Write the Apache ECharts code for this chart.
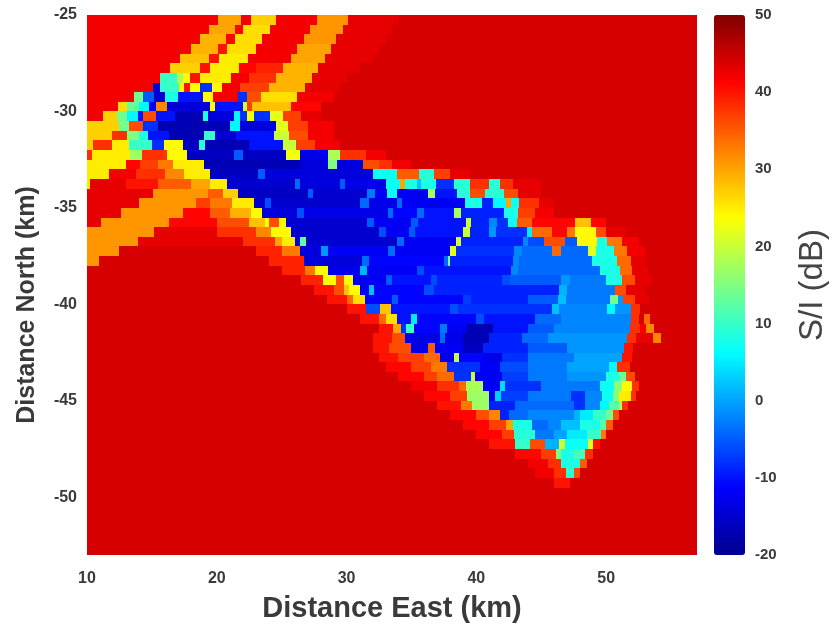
<!DOCTYPE html>
<html><head><meta charset="utf-8">
<style>html,body{margin:0;padding:0;background:#fff}#c{width:835px;height:626px;filter:blur(0.7px)}</style>
<script src="https://cdn.jsdelivr.net/npm/echarts@6/dist/echarts.min.js"></script>
</head><body><div id="c"></div>
<script>
var xTicks=[10,20,30,40,50];
var yTicks=[-50,-45,-40,-35,-30,-25];
var cbTicks=[-20,-10,0,10,20,30,40,50];
var rowStepKm=0.5;
// Each row: north value, then value,eastEnd pairs read west to east; the last value runs to the plot edge.
var rows=[
[-25.25,42,20.1,30,21.9,42,22.6,27,24.6,42,27.7,31,30.1,43,34,44],
[-25.75,42,19.4,30,21.4,41,22,26,24.1,42,27.2,31,29.7,43,33.5,44],
[-26.25,42,18.7,29,20.7,41,21.4,26,23.5,42,26.7,31,29.2,43,33,44],
[-26.75,42,18,29,20.1,40,20.8,26,23,42,26.2,30,28.8,43,32.5,44],
[-27.25,42,17.2,28,19.4,40,20.2,25,22.4,42,25.7,30,28.3,43,32,44],
[-27.75,42,16.4,27,18.7,40,19.5,25,21.7,41,23,39,25.1,29,27.8,43,31,44],
[-28.25,42,15.6,10,16.9,18,17.4,24,17.9,40,18.7,25,21.1,42,22.5,38,24.6,29,27.3,43,30,44],
[-28.75,42,15.1,-15,15.6,10,17.1,24,17.5,40,17.9,24,18.7,-8,19.6,24,20.4,42,21.8,37,24,29,26.8,43,29.5,44],
[-29.25,42,13.6,14,14.3,-5,15.2,-15,16,8,17,-10,18.9,24,19.7,42,21.6,-8,22.3,36,23.4,26,26.2,42,29,44],
[-29.75,42,12.4,26,13.1,13,14,6,14.8,-12,15.3,32,16.2,-14,19.5,24,19.9,-10,22,20,22.3,37,22.7,28,25.7,41,28,44],
[-30.25,42,11.2,27,12.3,14,13.1,6,13.9,-10,14.3,36,15.3,-10,16.8,-17,18.9,8,19.3,-14,21.3,6,21.8,-8,22.3,23,22.9,-8,24.1,22,25.1,37,26.5,43,28,44],
[-30.75,27,12.5,14,13.2,36,14.3,-8,15.5,-17,21,6,21.8,-14,24.6,22,25.5,37,27,42,29,44],
[-31.25,27,11.9,38,13.1,15,14,8,14.7,-10,16.3,-17,19,10,19.9,-15,21.5,-10,24.4,20,25.6,36,27,42,29,44],
[-31.75,27,10.5,38,11.9,25,13.2,10,15,-8,15.9,24,17.4,-16,18.6,9,19.1,-17,22.5,-10,25.1,20,26.1,37,27.6,42,29.5,44],
[-32.25,38,10.4,25,13.3,17,14.2,38,16.2,24,17.7,-16,21.3,-5,22,-16,25.3,23,26.4,-13,28.6,18,29.5,38,31.5,42,33,44],
[-32.75,25,13,41,14.1,37,15.5,33,16.6,25,19,-17,26.4,-14,28.6,15,29.3,-14,31.3,36,32.5,38,33.5,42,35,44],
[-33.25,25,11.7,42,13.8,38,16,32,17.5,25,19.5,-16,23.2,-5,23.7,-14,32,7,33.9,35,35.6,9,36.7,37,38,43,39.5,44],
[-33.75,25,10.2,43,13,40,15.5,35,18,30,19.5,25,20.8,-15,26,-4,26.4,-14,29.5,-5,29.9,-13,33,7,34.1,30,34.5,8,35.4,2,35.7,8,36.9,-8,38.3,9,39.5,38,41,9,41.8,38,42.8,43,45,44],
[-34.25,43,15.1,31,19.3,35,20.5,27,21.6,-16,27,-5,27.4,-15,31.6,-3,32.2,-12,33.1,7,33.9,-12,36.3,18,36.8,-10,38.5,9,39.5,36,40.7,9,42.1,36,43.2,43,45,44],
[-34.75,43,14,31,18.4,37,19.5,33,21.2,25,22.9,-15,23.7,-6,24.2,-15,31,-4,31.7,-13,33.9,-4,34.3,-12,39.1,8,40.4,-9,41.3,6,42.3,30,42.7,7,43.3,38,44.8,43,46,44],
[-35.25,43,12.6,31,17.4,41,19.5,35,21,29,22.6,24,23.5,-14,26.2,-6,26.7,-13,33.2,-4,33.6,-11,35.4,-4,36,-10,38.3,18,38.8,-9,42.1,8,43.2,37,44.5,42,46,44],
[-35.75,43,11.1,31,16.3,41,20,36,22.5,28,23.7,24,24,36,24.8,24,25.3,-15,31.6,-5,32.1,-12,35,-5,35.5,-10,39.2,20,39.6,-9,41,-2,41.6,-8,42.4,7,43.1,35,44.3,41,47.6,28,48.8,41,50,44],
[-36.25,31,15.2,43,20,38,23,32,24.2,24,25.7,-15,32.5,-6,33,-12,34.8,-5,35.3,-10,39,20,39.5,-9,41,-1,41.5,-8,43.9,5,44.3,34,45.8,41,47,33,47.6,24,49.2,36,50,43,51.5,44],
[-36.75,31,13.9,43,22,38,24.5,30,25,25,26,-13,26.4,13,26.9,-15,33.9,-4,34.4,-12,38.4,21,38.8,-9,43.6,-2,44,-6,45.2,36,46.85,-5,47.75,24,49.3,8,50.1,33,51.2,42,52.5,44],
[-37.25,31,12.5,44,23,39,25,33,26.4,-14,28,-1,28.6,-12,33.2,-4,33.7,-12,38,22,38.4,-8,42.9,-2,43.5,-4,45.8,34,46.5,-4,48.6,22,49.2,8,50.6,33,51.6,42,53,44],
[-37.75,31,10.9,44,24,39,26.7,-14,31.2,-4,31.7,-11,37.5,-4,37.8,14,38,-9,42.8,-2,43.3,-4,48.9,8,50.85,34,51.9,43,53,44],
[-38.25,44,25,39,26.8,33,27.6,24,28.6,-13,31,1,31.6,-12,35.4,-6,36,-10,42.7,-2,43.2,-4,49.5,8,51.1,34,52,43,53.2,44],
[-38.75,44,26.5,39,28.2,24,29.2,36,29.8,24,30.5,-12,33,-5,33.5,-10,36.5,-6,37,-9,42,-6,42.6,-5,46.5,-1,47.2,-3,50,8,51.2,36,52.2,43,53.5,44],
[-39.25,44,27.5,40,29,36,29.8,28,30.2,24,31,-12,31.7,2,32.1,-11,36,-6,36.7,-9,46.4,1,47,-3,50.7,36,51.5,43,53,44],
[-39.75,44,28.5,40,30,34,30.5,26,31.4,-11,33.5,-5,34,-11,39,-7,39.6,-9,44,-5,46.3,2,46.9,-3,50.3,14,50.9,-1,51.3,37,52.2,43,53.3,44],
[-40.25,44,30,40,31.5,-6,32.6,28,33.4,-10,38,-6,38.6,-8,45.8,2,46.4,-2,50.1,6,50.7,-1,51.9,38,52.6,44],
[-40.75,44,31,40,32.5,34,33,26,33.9,-10,35,5,35.4,-11,40,-6,40.6,-10,44.5,-4,46.5,-2,51.9,38,52.5,44,52.9,34,53.4,44],
[-41.25,44,32.5,40,33.6,30,34.2,-8,34.6,10,35.2,-11,37.2,-3,37.7,-12,39.3,-17,41.3,-10,44,-5,46,-2,51.8,38,52.6,42,53.1,32,53.7,44],
[-41.75,44,32,40,33.5,36,34.5,-13,37.2,-4,37.6,-13,39,-17,41,-9,43.5,-4,45.5,-1,51.6,38,52.3,43,53.6,32,54.2,44],
[-42.25,44,32,40,33.3,36,35,-13,36.3,35,36.8,-12,39,-16,40.5,-9,44,-5,47,-1,51.4,40,52.1,44],
[-42.75,44,32.5,40,34,37,36,34,37.2,-13,38.3,20,38.7,-11,40.5,-13,42,-8,44,-3,47.5,0,51.2,40,52,44],
[-43.25,44,33,41,35,37,36.5,33,37.7,-8,40.3,-12,41.8,-6,44,-3,47,0,50.2,6,50.85,38,51.8,44],
[-43.75,44,34,41,36,37,37,34,38.3,-8,39.6,20,39.9,-12,42,-7,44,-3,47,-1,50,8,51,14,51.5,36,52.2,44],
[-44.25,44,35,42,37,38,38.7,34,39.2,18,40.5,-12,41.8,4,42.2,-8,45,-3,49.5,7,50.6,16,51.2,24,52,38,52.5,44],
[-44.75,44,36,41,38,37,39.3,17,41,-12,41.4,3,41.9,-7,44,-3,47.3,-8,48.4,-2,49.7,7,50.5,15,51,25,51.9,38,52.3,44],
[-45.25,44,37,40,38.8,33,39.7,17,41,-9,43,-4,47.5,-8,48.4,-2,49.5,6,50.2,12,51,18,51.2,38,51.7,44],
[-45.75,44,38,41,40,36,41,32,41.8,-9,42.5,-4,44,-2,47.5,1,48,5,49,10,50,14,50.5,36,51,44],
[-46.25,44,39,41,41,37,42.3,30,42.8,8,44.3,-4,45.5,-2,46.5,2,48,8,49.5,12,50,35,50.5,44],
[-46.75,44,40,41,42,37,42.9,9,44.5,-3,46,0,47,5,48.5,10,49.6,33,50,44],
[-47.25,44,41,40,43,10,44.1,36,45.3,1,46.4,20,46.8,7,48.6,22,49,40,49.5,44],
[-47.75,44,43,41,45,37,46.1,15,46.5,8,47.5,11,48.4,38,49,44],
[-48.25,44,44,42,45.5,38,46.5,8,48,35,48.5,44],
[-48.75,44,44.5,42,46,38,46.9,9,47.5,36,48,44],
[-49.25,44,46,40,47.2,44],
[-49.75,44],[-50.25,44],[-50.75,44],[-51.25,44],[-51.75,44],[-52.25,44],[-52.75,44]
];
var xMin=10,xMax=57,yMin=-53,yMax=-25,cbMin=-20,cbMax=50;
var jet=['#00008f','#0000ff','#0080ff','#00ffff','#80ff80','#ffff00','#ff8000','#ff0000','#800000'];

var cells=[];
rows.forEach(function(r){
  var y=r[0],start=xMin;
  for(var k=1;k<r.length;k+=2){
    var end=k+1<r.length?r[k+1]:xMax;
    cells.push([start,end,y,r[k]]);
    start=end;
  }
});
var labelFont='"Liberation Sans",Arial,sans-serif';
var chart=echarts.init(document.getElementById('c'),null,{renderer:'canvas'});
chart.setOption({
  animation:false,
  backgroundColor:'#fff',
  grid:[
    {left:87,top:15,width:610,height:540,outerBoundsMode:'none',containLabel:false},
    {left:714,top:15,width:31,height:540,outerBoundsMode:'none',containLabel:false}
  ],
  xAxis:[
    {gridIndex:0,type:'value',min:xMin,max:xMax,name:'Distance East (km)',nameLocation:'middle',nameGap:39,
     nameTextStyle:{fontFamily:labelFont,fontWeight:'bold',fontSize:29,color:'#3a3a3a',align:'center'},
     axisLine:{show:false},axisTick:{show:false},splitLine:{show:false},
     axisLabel:{customValues:xTicks,fontFamily:labelFont,fontWeight:'bold',fontSize:16,color:'#3a3a3a',margin:16}},
    {gridIndex:1,type:'value',min:0,max:1,show:false}
  ],
  yAxis:[
    {gridIndex:0,type:'value',min:yMin,max:yMax,name:'Distance North (km)',nameLocation:'middle',nameGap:47,
     nameTextStyle:{fontFamily:labelFont,fontWeight:'bold',fontSize:25,color:'#3a3a3a',padding:[0,40,0,0]},
     axisLine:{show:false},axisTick:{show:false},splitLine:{show:false},
     axisLabel:{customValues:yTicks,fontFamily:labelFont,fontWeight:'bold',fontSize:16,color:'#3a3a3a',margin:10,padding:[4,0,0,0]}},
    {gridIndex:1,type:'value',min:cbMin,max:cbMax,position:'right',name:'S/I (dB)',nameLocation:'middle',nameGap:51,
     nameTextStyle:{fontFamily:labelFont,fontSize:33,color:'#444'},
     axisLine:{show:false},axisTick:{show:false},splitLine:{show:false},
     axisLabel:{customValues:cbTicks,fontFamily:labelFont,fontWeight:'bold',fontSize:15,color:'#3a3a3a',margin:10,padding:[3,0,0,0]}}
  ],
  visualMap:{
    type:'continuous',seriesIndex:0,dimension:3,min:cbMin,max:cbMax,calculable:false,
    left:714,top:15,itemWidth:31,itemHeight:540,padding:0,text:null,showLabel:false,
    inRange:{color:jet}
  },
  series:[{
    type:'custom',xAxisIndex:0,yAxisIndex:0,clip:true,silent:true,
    encode:{x:[0,1],y:2},
    data:cells,
    renderItem:function(params,api){
      var half=rowStepKm/2;
      var a=api.coord([api.value(0),api.value(2)+half]);
      var b=api.coord([api.value(1),api.value(2)-half]);
      var x0=Math.round(a[0]),x1=Math.round(b[0]),y0=Math.round(a[1]),y1=Math.round(b[1]);
      return {type:'rect',shape:{x:x0,y:y0,width:x1-x0,height:y1-y0},style:{fill:api.visual('color'),stroke:null}};
    }
  }]
});
</script></body></html>
